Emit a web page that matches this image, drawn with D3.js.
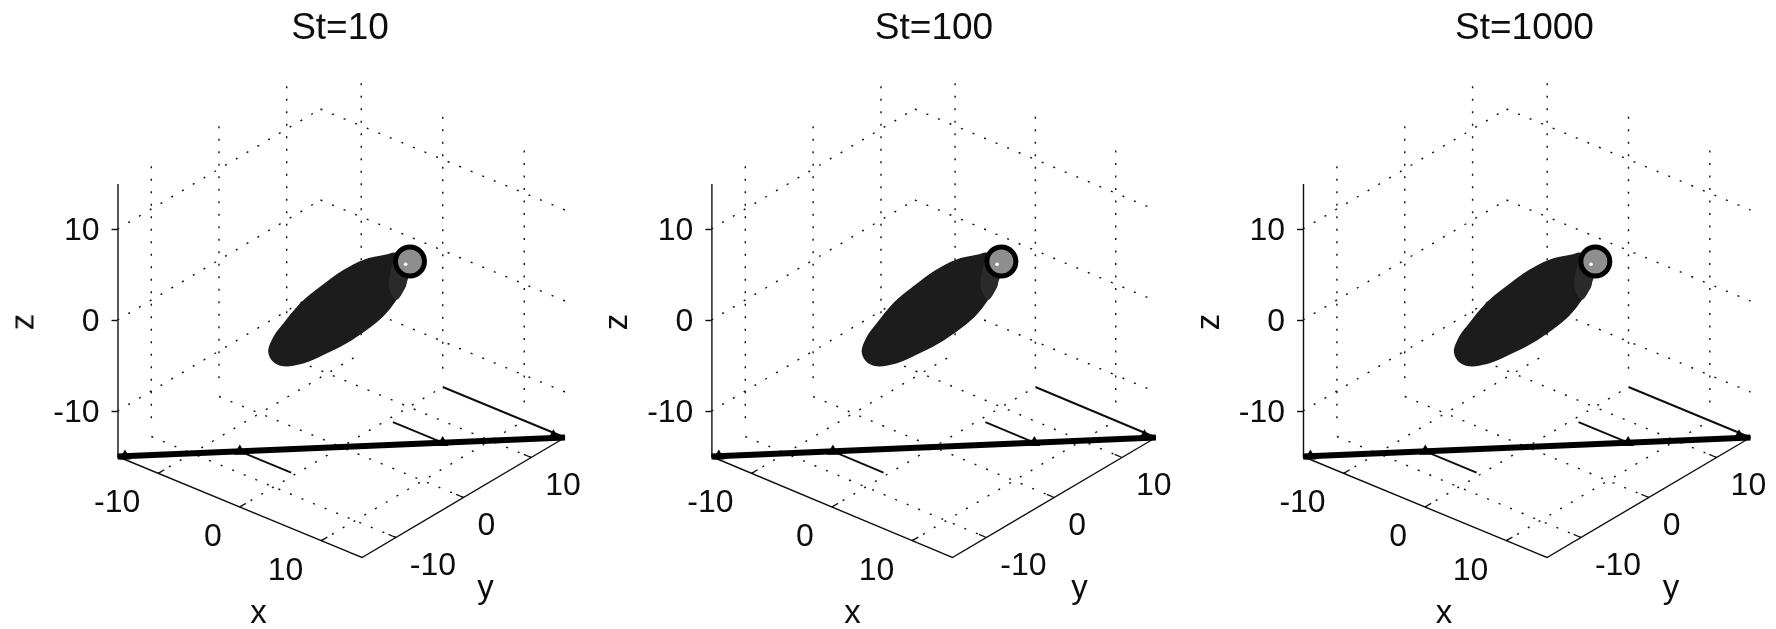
<!DOCTYPE HTML>
<html>
<head>
<title>St panels</title>
<meta charset="utf-8" />
<script src="https://d3js.org/d3.v7.min.js"></script>
<style>
  body { margin: 0; background: #fff; }
  text { font-family: "Liberation Sans", Arial, sans-serif; fill: #111; }
</style>
</head>
<body>
<div id="my_dataviz"></div>
<script>
// values
var titles = ["St=10", "St=100", "St=1000"];
var ticks = [-10, 0, 10];
var limits = [-15, 15];

// dark blob outline, (x, z) in the y=0 plane
var blobX = [-8.96, -8.34, -7.12, -5.07, -2.61, 0.25, 2.7, 5.36, 6.8, 8.02, 6.8, 5.15, 3.12, 0.66, -2.2, -4.66, -7.12, -8.34];
var blobZ = [-7.88, -6.0, -4.07, -1.1, 1.64, 4.54, 6.56, 8.1, 8.82, 5.99, 3.69, 1.24, -0.98, -3.36, -5.71, -7.54, -8.76, -8.75];
// lighter end of the blob next to the circle
var tailX = [6.2, 6.8, 8.4, 8.02, 6.8, 5.9];
var tailZ = [7.2, 8.82, 8.5, 5.99, 3.69, 4.6];
// the circle and the white spot in it
var circleX = 8.43, circleZ = 8.5;
var spotX = 7.9, spotZ = 8.0;
// floor lines: thick diagonal, then the three thin ribs
var diagX = [-15, 15], diagY = [-15, 15];
var ribX0 = [-6.8, 0.7, 0], ribX1 = [-0.5, 6.8, 15], ribY = [-6.8, 6.8, 15];
var jointX = [-14.5, -6.8, 6.8, 14];
var jointY = [-14.5, -6.8, 6.8, 14.5];

// panel geometry in page pixels
var panelLeft = [117.5, 711.4, 1303];
var panelXSpan = [244.5, 241, 244];
var panelYSpan = [203, 203.5, 203.5];
var titleCenter = [340, 934, 1524.5];

var svg = d3.select("#my_dataviz")
  .append("svg")
    .attr("width", 1776)
    .attr("height", 629);

var defs = svg.append("defs");
defs.append("filter").attr("id", "soft")
  .append("feGaussianBlur").attr("stdDeviation", 0.5);

var root = svg.append("g").attr("filter", "url(#soft)");

titles.forEach(function(title, i) { drawPanel(title, i); });

function drawPanel(title, i) {
  var left = panelLeft[i];
  var cornerY = 456.5;

  // oblique projection of the box, one scale per screen contribution
  var xToH = d3.scaleLinear().domain(limits).range([0, panelXSpan[i]]);
  var xToV = d3.scaleLinear().domain(limits).range([0, 101]);
  var yToH = d3.scaleLinear().domain(limits).range([0, panelYSpan[i]]);
  var yToV = d3.scaleLinear().domain(limits).range([0, -120]);
  var zToV = d3.scaleLinear().domain(limits).range([0, -273]);

  function px(x, y) { return left + xToH(x) + yToH(y); }
  function py(x, y, z) { return cornerY + xToV(x) + yToV(y) + zToV(z); }

  var line3 = d3.line()
    .x(function(d) { return px(d[0], d[1]); })
    .y(function(d) { return py(d[0], d[1], d[2]); });

  var g = root.append("g");

  g.append("text")
    .attr("x", titleCenter[i])
    .attr("y", 39)
    .attr("text-anchor", "middle")
    .style("font-size", "37px")
    .text(title);

  // dotted grid on the two walls and the floor
  var grid = [];
  ticks.forEach(function(t) {
    grid.push([[-15, -15, t], [-15, 15, t]]);   // wall x=-15, level z
    grid.push([[-15, 15, t], [15, 15, t]]);     // wall y=15, level z
    grid.push([[-15, t, -13], [-15, t, 15]]);   // wall x=-15, upright
    grid.push([[t, 15, -13], [t, 15, 15]]);     // wall y=15, upright
    grid.push([[-15, t, -15], [15, t, -15]]);   // floor
    grid.push([[t, -15, -15], [t, 15, -15]]);   // floor
  });
  g.selectAll(".grid")
    .data(grid)
    .enter()
    .append("path")
      .attr("class", "grid")
      .attr("d", line3)
      .attr("fill", "none")
      .attr("stroke", "#111")
      .attr("stroke-width", 1.4)
      .attr("stroke-dasharray", "2 10.5");

  // box edges on the floor
  g.append("path")
    .attr("d", line3([[-15, -15, -15], [15, -15, -15], [15, 15, -15]]))
    .attr("fill", "none")
    .attr("stroke", "#111")
    .attr("stroke-width", 1.4);

  // small inward ticks on x and y axes
  ticks.forEach(function(t) {
    g.append("path").attr("d", line3([[t, -15, -15], [t, -14.1, -15]]))
      .attr("stroke", "#111").attr("stroke-width", 1.3);
    g.append("path").attr("d", line3([[15, t, -15], [14.1, t, -15]]))
      .attr("stroke", "#111").attr("stroke-width", 1.3);
  });

  // z axis, plain hyphen in the labels like the x and y ones
  var zScale = d3.scaleLinear().domain(limits).range([cornerY, cornerY - 273]);
  var zAxis = g.append("g")
    .attr("transform", "translate(" + left + ",0)")
    .call(d3.axisLeft(zScale).tickValues(ticks).tickSize(6).tickSizeOuter(0).tickPadding(12).tickFormat(String));
  zAxis.selectAll("path,line").attr("stroke", "#111").attr("stroke-width", 1.4);
  zAxis.selectAll("text")
    .attr("fill", "#111")
    .style("font-size", "32px")
    .style("font-family", '"Liberation Sans", Arial, sans-serif');

  // x and y tick labels
  ticks.forEach(function(t) {
    g.append("text")
      .attr("x", px(t, -15) - 18)
      .attr("y", py(t, -15, -15) + 39)
      .attr("text-anchor", "end")
      .style("font-size", "32px")
      .text(t);
    g.append("text")
      .attr("x", px(15, t) + 14)
      .attr("y", py(15, t, -15) + 37)
      .style("font-size", "32px")
      .text(t);
  });

  // axis names
  g.append("text").attr("x", left + 141).attr("y", 623)
    .attr("text-anchor", "middle").style("font-size", "33px").text("x");
  g.append("text").attr("x", left + 368).attr("y", 598)
    .attr("text-anchor", "middle").style("font-size", "33px").text("y");
  g.append("text")
    .attr("transform", "translate(" + (left - 84) + ",322) rotate(-90)")
    .attr("text-anchor", "middle")
    .style("font-size", "33px")
    .text("z");

  // blob
  var blobLine = d3.line()
    .x(function(d) { return px(d[0], 0); })
    .y(function(d) { return py(d[0], 0, d[1]); })
    .curve(d3.curveCatmullRomClosed);

  g.append("path")
    .attr("d", blobLine(blobX.map(function(v, k) { return [v, blobZ[k]]; })))
    .attr("fill", "#1b1b1b");
  g.append("path")
    .attr("d", blobLine(tailX.map(function(v, k) { return [v, tailZ[k]]; })))
    .attr("fill", "#2c2c2c");

  // circle at the tip
  g.append("circle")
    .attr("cx", px(circleX, 0))
    .attr("cy", py(circleX, 0, circleZ))
    .attr("r", 14.5)
    .attr("fill", "#8e8e8e")
    .attr("stroke", "#000")
    .attr("stroke-width", 5);
  g.append("circle")
    .attr("cx", px(spotX, 0))
    .attr("cy", py(spotX, 0, spotZ))
    .attr("r", 1.8)
    .attr("fill", "#fff");

  // thin ribs
  ribY.forEach(function(y, k) {
    g.append("path")
      .attr("d", line3([[ribX0[k], y, -15], [ribX1[k], y, -15]]))
      .attr("fill", "none")
      .attr("stroke", "#111")
      .attr("stroke-width", 1.9);
  });

  // thick diagonal
  g.append("path")
    .attr("d", line3([[diagX[0], diagY[0], -15], [diagX[1], diagY[1], -15]]))
    .attr("fill", "none")
    .attr("stroke", "#000")
    .attr("stroke-width", 6);

  // arrow heads along the diagonal
  var head = d3.symbol().type(d3.symbolTriangle).size(60);
  jointX.forEach(function(x, k) {
    g.append("path")
      .attr("d", head())
      .attr("transform", "translate(" + px(x, jointY[k]) + "," + py(x, jointY[k], -15) + ")")
      .attr("fill", "#000");
  });
}
</script>
</body>
</html>
